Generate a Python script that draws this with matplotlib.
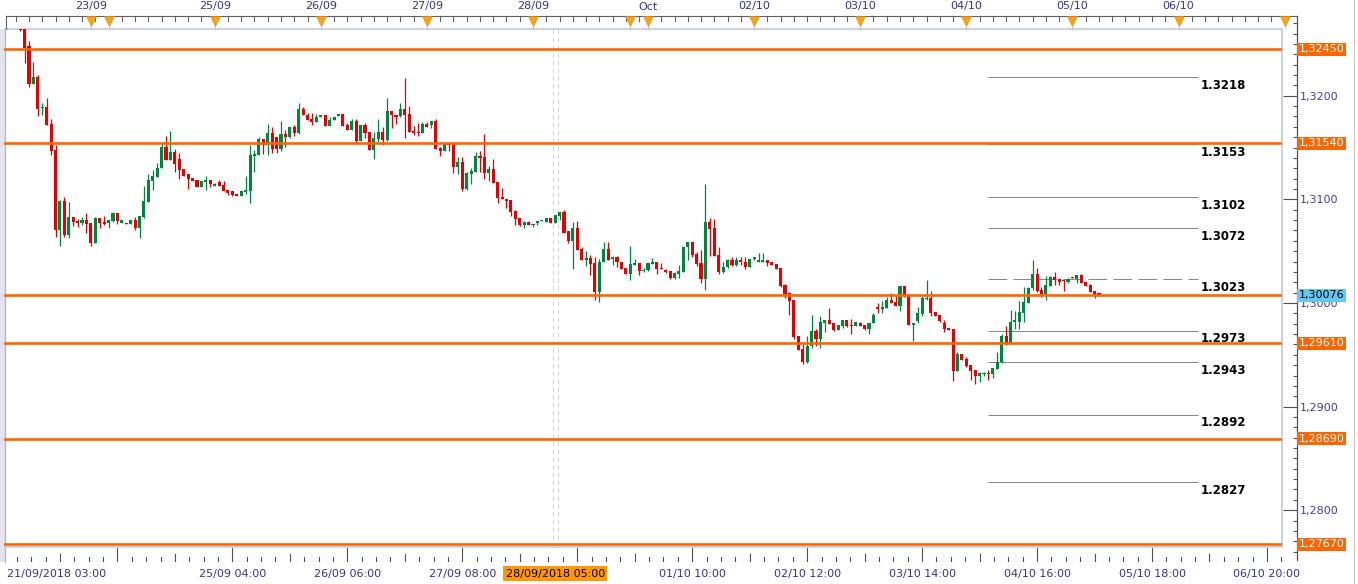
import numpy as np
import matplotlib
matplotlib.use("Agg")
import matplotlib.pyplot as plt
import matplotlib.transforms as mtransforms
from matplotlib.patches import Rectangle
from matplotlib.ticker import MultipleLocator, FuncFormatter

W, H, DPI = 1358, 584, 100

# GBP/USD hourly candles.
# x axis = trading-hour index counted from 21/09 00:00 (weekend removed)
first_hour = 6

opens = [
    1.3272, 1.3264, 1.3248, 1.3211, 1.3218, 1.3188, 1.3189, 1.3173, 1.3148, 1.3070,
    1.3098, 1.3066, 1.3083, 1.3079, 1.3077, 1.3080, 1.3077, 1.3058, 1.3082, 1.3078,
    1.3077, 1.3079, 1.3087, 1.3077, 1.3077, 1.3076, 1.3080, 1.3072, 1.3083, 1.3097,
    1.3118, 1.3122, 1.3130, 1.3151, 1.3138, 1.3146, 1.3139, 1.3129, 1.3124, 1.3121,
    1.3119, 1.3112, 1.3117, 1.3119, 1.3113, 1.3117, 1.3114, 1.3109, 1.3108, 1.3105,
    1.3103, 1.3107, 1.3108, 1.3142, 1.3143, 1.3158, 1.3152, 1.3164, 1.3160, 1.3149,
    1.3163, 1.3160, 1.3170, 1.3164, 1.3187, 1.3181, 1.3178, 1.3175, 1.3179, 1.3181,
    1.3171, 1.3177, 1.3180, 1.3182, 1.3172, 1.3167, 1.3176, 1.3156, 1.3172, 1.3165,
    1.3148, 1.3158, 1.3165, 1.3157, 1.3185, 1.3181, 1.3180, 1.3187, 1.3182, 1.3166,
    1.3165, 1.3164, 1.3173, 1.3172, 1.3176, 1.3150, 1.3147, 1.3154, 1.3153, 1.3131,
    1.3136, 1.3110, 1.3124, 1.3126, 1.3142, 1.3141, 1.3125, 1.3129, 1.3117, 1.3102,
    1.3100, 1.3099, 1.3089, 1.3082, 1.3075, 1.3078, 1.3075, 1.3077, 1.3079, 1.3078,
    1.3082, 1.3077, 1.3084, 1.3088, 1.3069, 1.3060, 1.3072, 1.3052, 1.3041, 1.3043,
    1.3039, 1.3011, 1.3040, 1.3052, 1.3042, 1.3044, 1.3040, 1.3034, 1.3028, 1.3037,
    1.3039, 1.3031, 1.3032, 1.3038, 1.3040, 1.3034, 1.3032, 1.3031, 1.3024, 1.3028,
    1.3030, 1.3054, 1.3059, 1.3047, 1.3039, 1.3023, 1.3078, 1.3072, 1.3046, 1.3030,
    1.3035, 1.3041, 1.3037, 1.3041, 1.3040, 1.3035, 1.3042, 1.3040, 1.3040, 1.3041,
    1.3040, 1.3038, 1.3034, 1.3017, 1.3010, 1.3003, 1.2968, 1.2956, 1.2943, 1.2958,
    1.2973, 1.2965, 1.2981, 1.2984, 1.2981, 1.2974, 1.2978, 1.2984, 1.2979, 1.2978,
    1.2981, 1.2979, 1.2975, 1.2981, 1.2996, 1.2994, 1.2995, 1.3003, 1.3001, 1.2997,
    1.3016, 1.3007, 1.2979, 1.2983, 1.2989, 1.3004, 1.3005, 1.2991, 1.2988, 1.2981,
    1.2976, 1.2975, 1.2934, 1.2951, 1.2946, 1.2940, 1.2935, 1.2930, 1.2931, 1.2932,
    1.2931, 1.2936, 1.2943, 1.2968, 1.2960, 1.2982, 1.2982, 1.2990, 1.3000, 1.3014,
    1.3028, 1.3013, 1.3009, 1.3016, 1.3025, 1.3023, 1.3022, 1.3020, 1.3025, 1.3023,
    1.3027, 1.3020, 1.3017, 1.3012, 1.3010,
]
highs = [
    1.3276, 1.3266, 1.3253, 1.3233, 1.3220, 1.3193, 1.3198, 1.3178, 1.3152, 1.3099,
    1.3102, 1.3097, 1.3083, 1.3081, 1.3083, 1.3087, 1.3077, 1.3083, 1.3082, 1.3084,
    1.3080, 1.3088, 1.3087, 1.3080, 1.3077, 1.3080, 1.3083, 1.3084, 1.3113, 1.3124,
    1.3128, 1.3135, 1.3153, 1.3161, 1.3166, 1.3149, 1.3145, 1.3129, 1.3124, 1.3121,
    1.3119, 1.3118, 1.3123, 1.3119, 1.3116, 1.3119, 1.3118, 1.3109, 1.3108, 1.3105,
    1.3108, 1.3123, 1.3152, 1.3148, 1.3160, 1.3158, 1.3173, 1.3170, 1.3160, 1.3176,
    1.3167, 1.3170, 1.3172, 1.3193, 1.3189, 1.3183, 1.3183, 1.3182, 1.3181, 1.3181,
    1.3179, 1.3179, 1.3182, 1.3182, 1.3174, 1.3178, 1.3178, 1.3172, 1.3174, 1.3165,
    1.3165, 1.3178, 1.3170, 1.3198, 1.3185, 1.3181, 1.3193, 1.3217, 1.3190, 1.3171,
    1.3174, 1.3175, 1.3175, 1.3176, 1.3178, 1.3151, 1.3154, 1.3154, 1.3154, 1.3141,
    1.3141, 1.3126, 1.3130, 1.3146, 1.3147, 1.3163, 1.3132, 1.3139, 1.3117, 1.3111,
    1.3100, 1.3099, 1.3090, 1.3082, 1.3079, 1.3079, 1.3076, 1.3079, 1.3080, 1.3082,
    1.3082, 1.3085, 1.3088, 1.3090, 1.3069, 1.3078, 1.3079, 1.3054, 1.3050, 1.3046,
    1.3044, 1.3042, 1.3059, 1.3059, 1.3045, 1.3045, 1.3040, 1.3034, 1.3055, 1.3042,
    1.3039, 1.3034, 1.3039, 1.3043, 1.3040, 1.3039, 1.3033, 1.3031, 1.3030, 1.3037,
    1.3054, 1.3059, 1.3059, 1.3049, 1.3051, 1.3115, 1.3082, 1.3081, 1.3054, 1.3040,
    1.3042, 1.3044, 1.3044, 1.3044, 1.3044, 1.3042, 1.3044, 1.3048, 1.3048, 1.3041,
    1.3040, 1.3038, 1.3034, 1.3018, 1.3011, 1.3003, 1.2968, 1.2960, 1.2968, 1.2988,
    1.2975, 1.2987, 1.2984, 1.2995, 1.2981, 1.2979, 1.2984, 1.2984, 1.2985, 1.2982,
    1.2982, 1.2979, 1.2981, 1.2990, 1.3000, 1.3002, 1.3006, 1.3010, 1.3008, 1.3016,
    1.3016, 1.3007, 1.2981, 1.2996, 1.3007, 1.3022, 1.3012, 1.2991, 1.2988, 1.2984,
    1.2976, 1.2975, 1.2953, 1.2951, 1.2948, 1.2940, 1.2935, 1.2933, 1.2933, 1.2935,
    1.2937, 1.2953, 1.2970, 1.2978, 1.2993, 1.2992, 1.3002, 1.3015, 1.3015, 1.3041,
    1.3034, 1.3015, 1.3026, 1.3026, 1.3030, 1.3023, 1.3022, 1.3024, 1.3025, 1.3027,
    1.3028, 1.3020, 1.3018, 1.3012, 1.3011,
]
lows = [
    1.3262, 1.3232, 1.3208, 1.3211, 1.3180, 1.3181, 1.3172, 1.3143, 1.3064, 1.3055,
    1.3064, 1.3063, 1.3074, 1.3073, 1.3075, 1.3068, 1.3055, 1.3058, 1.3072, 1.3075,
    1.3072, 1.3078, 1.3076, 1.3077, 1.3076, 1.3076, 1.3070, 1.3063, 1.3082, 1.3097,
    1.3109, 1.3122, 1.3130, 1.3138, 1.3138, 1.3126, 1.3120, 1.3123, 1.3110, 1.3118,
    1.3112, 1.3112, 1.3109, 1.3112, 1.3113, 1.3113, 1.3108, 1.3104, 1.3103, 1.3103,
    1.3103, 1.3105, 1.3096, 1.3126, 1.3143, 1.3144, 1.3143, 1.3145, 1.3145, 1.3147,
    1.3151, 1.3159, 1.3161, 1.3163, 1.3181, 1.3177, 1.3172, 1.3175, 1.3179, 1.3171,
    1.3171, 1.3177, 1.3180, 1.3171, 1.3167, 1.3167, 1.3153, 1.3156, 1.3159, 1.3148,
    1.3139, 1.3155, 1.3152, 1.3156, 1.3169, 1.3173, 1.3179, 1.3159, 1.3165, 1.3162,
    1.3161, 1.3164, 1.3170, 1.3169, 1.3149, 1.3142, 1.3147, 1.3147, 1.3125, 1.3124,
    1.3108, 1.3109, 1.3115, 1.3126, 1.3126, 1.3120, 1.3118, 1.3116, 1.3096, 1.3100,
    1.3092, 1.3084, 1.3075, 1.3074, 1.3072, 1.3075, 1.3073, 1.3075, 1.3079, 1.3078,
    1.3077, 1.3077, 1.3080, 1.3068, 1.3058, 1.3033, 1.3051, 1.3041, 1.3036, 1.3027,
    1.3003, 1.3001, 1.3040, 1.3041, 1.3037, 1.3035, 1.3033, 1.3028, 1.3022, 1.3037,
    1.3027, 1.3030, 1.3031, 1.3038, 1.3028, 1.3033, 1.3029, 1.3023, 1.3023, 1.3024,
    1.3030, 1.3041, 1.3044, 1.3036, 1.3019, 1.3013, 1.3045, 1.3045, 1.3028, 1.3029,
    1.3034, 1.3036, 1.3036, 1.3037, 1.3033, 1.3035, 1.3041, 1.3040, 1.3040, 1.3036,
    1.3037, 1.3033, 1.3015, 1.3005, 1.2988, 1.2965, 1.2955, 1.2941, 1.2942, 1.2957,
    1.2958, 1.2957, 1.2972, 1.2980, 1.2973, 1.2974, 1.2976, 1.2977, 1.2970, 1.2978,
    1.2978, 1.2974, 1.2970, 1.2981, 1.2990, 1.2990, 1.2995, 1.3000, 1.2997, 1.2992,
    1.3006, 1.2979, 1.2963, 1.2981, 1.2987, 1.3003, 1.2987, 1.2987, 1.2982, 1.2972,
    1.2974, 1.2925, 1.2934, 1.2945, 1.2938, 1.2926, 1.2922, 1.2924, 1.2930, 1.2926,
    1.2928, 1.2936, 1.2942, 1.2959, 1.2960, 1.2975, 1.2975, 1.2982, 1.3000, 1.3013,
    1.3011, 1.3006, 1.3003, 1.3016, 1.3017, 1.3017, 1.3012, 1.3019, 1.3024, 1.3019,
    1.3019, 1.3016, 1.3011, 1.3005, 1.3007,
]
closes = [
    1.3263, 1.3246, 1.3211, 1.3218, 1.3187, 1.3189, 1.3172, 1.3147, 1.3070, 1.3098,
    1.3066, 1.3083, 1.3078, 1.3077, 1.3080, 1.3076, 1.3058, 1.3082, 1.3077, 1.3076,
    1.3080, 1.3087, 1.3079, 1.3080, 1.3076, 1.3080, 1.3072, 1.3084, 1.3098, 1.3119,
    1.3123, 1.3130, 1.3151, 1.3138, 1.3146, 1.3134, 1.3128, 1.3123, 1.3120, 1.3118,
    1.3112, 1.3118, 1.3119, 1.3115, 1.3115, 1.3113, 1.3108, 1.3106, 1.3104, 1.3103,
    1.3108, 1.3109, 1.3143, 1.3144, 1.3158, 1.3152, 1.3164, 1.3149, 1.3149, 1.3163,
    1.3160, 1.3170, 1.3164, 1.3187, 1.3181, 1.3177, 1.3175, 1.3179, 1.3181, 1.3171,
    1.3177, 1.3179, 1.3182, 1.3171, 1.3167, 1.3176, 1.3156, 1.3172, 1.3164, 1.3148,
    1.3159, 1.3165, 1.3157, 1.3185, 1.3181, 1.3179, 1.3187, 1.3181, 1.3165, 1.3164,
    1.3164, 1.3173, 1.3170, 1.3176, 1.3149, 1.3147, 1.3154, 1.3152, 1.3131, 1.3136,
    1.3110, 1.3125, 1.3127, 1.3142, 1.3140, 1.3125, 1.3129, 1.3116, 1.3101, 1.3100,
    1.3098, 1.3088, 1.3081, 1.3075, 1.3078, 1.3075, 1.3076, 1.3079, 1.3080, 1.3082,
    1.3077, 1.3085, 1.3088, 1.3068, 1.3060, 1.3072, 1.3051, 1.3041, 1.3043, 1.3038,
    1.3011, 1.3040, 1.3052, 1.3041, 1.3044, 1.3040, 1.3033, 1.3028, 1.3038, 1.3039,
    1.3031, 1.3032, 1.3039, 1.3040, 1.3033, 1.3033, 1.3030, 1.3024, 1.3029, 1.3031,
    1.3054, 1.3059, 1.3046, 1.3038, 1.3023, 1.3078, 1.3071, 1.3045, 1.3030, 1.3035,
    1.3041, 1.3037, 1.3041, 1.3040, 1.3035, 1.3042, 1.3044, 1.3041, 1.3041, 1.3039,
    1.3037, 1.3033, 1.3016, 1.3009, 1.3002, 1.2967, 1.2955, 1.2943, 1.2958, 1.2973,
    1.2965, 1.2982, 1.2984, 1.2980, 1.2974, 1.2979, 1.2984, 1.2978, 1.2978, 1.2982,
    1.2978, 1.2975, 1.2981, 1.2988, 1.2994, 1.2996, 1.3003, 1.3000, 1.2997, 1.3016,
    1.3007, 1.2979, 1.2981, 1.2990, 1.3005, 1.3005, 1.2990, 1.2987, 1.2983, 1.2975,
    1.2974, 1.2934, 1.2951, 1.2945, 1.2939, 1.2934, 1.2930, 1.2932, 1.2932, 1.2931,
    1.2937, 1.2943, 1.2968, 1.2960, 1.2982, 1.2983, 1.2991, 1.3001, 1.3014, 1.3028,
    1.3012, 1.3009, 1.3017, 1.3025, 1.3022, 1.3020, 1.3021, 1.3023, 1.3024, 1.3027,
    1.3019, 1.3016, 1.3011, 1.3009, 1.30076,
]

support_levels = [1.32450, 1.31540, 1.30080, 1.29610, 1.28690, 1.27670]
boxed_supports = [1.32450, 1.31540, 1.29610, 1.28690, 1.27670]
target_levels = [1.3218, 1.3153, 1.3102, 1.3072, 1.3023, 1.2973, 1.2943, 1.2892, 1.2827]
dashed_target = 1.3023
last_price = 1.30076

day_hours = [22, 26, 50, 74, 98, 122, 144, 148, 172, 196, 220, 244, 268, 292]
day_labels = ["23/09", "", "25/09", "26/09", "27/09", "28/09", "", "Oct",
              "02/10", "03/10", "04/10", "05/10", "06/10", ""]
time_hours = [54, 80, 106, 158, 184, 210, 236, 262, 288]
time_labels = ["25/09 04:00", "26/09 06:00", "27/09 08:00", "01/10 10:00", "02/10 12:00",
               "03/10 14:00", "04/10 16:00", "05/10 18:00", "06/10 20:00"]
start_label = "21/09/2018 03:00"
cursor_hour = 127
cursor_label = "28/09/2018 05:00"

RED, GREEN, ORANGE = "#e30000", "#00843e", "#ff6600"
BLUE_TXT = "#34348a"

o, h, l, c = (np.array(v) for v in (opens, highs, lows, closes))
x = first_hour + np.arange(len(c))
up = c >= o
cols = np.where(up, GREEN, RED)

fig = plt.figure(figsize=(W / DPI, H / DPI), dpi=DPI)
fig.patch.set_facecolor("white")

# pixel-space layer for frame, strips and borders
bg = fig.add_axes([0, 0, 1, 1])
bg.set_xlim(0, W)
bg.set_ylim(H, 0)
bg.axis("off")

ax = fig.add_axes([4 / W, 1 - 547 / H, 1278 / W, 518 / H])
ax.patch.set_alpha(0)
ax.set_xlim(2.35, 291.4)
ax.set_ylim(1.27645, 1.32644)
for s in ax.spines.values():
    s.set_visible(False)
ax.set_xticks([])
ax.set_yticks([])

# candles
ax.vlines(x, l, h, colors=cols, linewidth=0.9, zorder=3)
ax.bar(x, np.maximum(np.abs(c - o), 0.00011), bottom=np.minimum(o, c), width=0.7,
       color=cols, linewidth=0, zorder=4)

# cursor (dashed double line)
for dx in (-0.55, 0.6):
    ax.axvline(cursor_hour + dx, color="#d6d6d6", lw=0.8, ls=(0, (4, 3)), zorder=1)

# support / resistance lines
for lv in support_levels:
    ax.axhline(lv, color=ORANGE, lw=1.9, zorder=6)

# target levels with labels
txt_off = mtransforms.offset_copy(ax.transData, fig=fig, x=0, y=-1.5, units="dots")
for lv in target_levels:
    ls = (0, (18, 6)) if lv == dashed_target else "-"
    ax.hlines(lv, 225, 272.5, color="#8a8a8a", lw=0.75, ls=ls, zorder=2)
    ax.text(272.9, lv, f"{lv:.4f}", transform=txt_off, ha="left", va="top",
            fontsize=8.5, fontweight="bold", color="black", zorder=7)

# price axis (extends into the strips)
ymin, ymax = ax.get_ylim()
per_px = (ymax - ymin) / 518
axp = fig.add_axes([1282 / W, 1 - 560 / H, 15 / W, 544 / H])
axp.patch.set_alpha(0)
axp.set_ylim(ymin - 13 * per_px, ymax + 13 * per_px)
for side in ("left", "top", "bottom"):
    axp.spines[side].set_visible(False)
axp.spines["right"].set_color("#505050")
axp.spines["right"].set_linewidth(0.9)
axp.set_xticks([])
axp.yaxis.tick_right()
axp.yaxis.set_major_locator(MultipleLocator(0.01))
axp.yaxis.set_minor_locator(MultipleLocator(0.001))
axp.yaxis.set_major_formatter(FuncFormatter(lambda v, p: f"{v:.4f}".replace(".", ",")))
axp.tick_params(axis="y", which="major", direction="in", length=10, width=0.8,
                color="#505050", labelcolor="#4040a0", labelsize=8, pad=2.2)
axp.tick_params(axis="y", which="minor", direction="in", length=3, width=0.8, color="#505050")

pblend = mtransforms.blended_transform_factory(axp.transAxes, axp.transData)
for lv in boxed_supports:
    axp.text(1.1, lv, f"{lv:.5f}".replace(".", ","), transform=pblend, ha="left", va="center",
             fontsize=8, color="white", clip_on=False, zorder=10,
             bbox=dict(boxstyle="square,pad=0.13", fc=ORANGE, ec="none"))
axp.text(1.1, last_price, f"{last_price:.5f}".replace(".", ","), transform=pblend,
         ha="left", va="center", fontsize=8, color="black", clip_on=False, zorder=11,
         bbox=dict(boxstyle="square,pad=0.13", fc="#64c8f4", ec="none"))

# frame and borders (pixel space)
bg.add_patch(Rectangle((0, 29), 4.5, 533, fc="#e4e4f0", ec="none"))
bg.plot([4.5, 4.5], [29, 562], color="#b0b0d0", lw=0.9)
bg.plot([4.5, 1282, 1282, 4.5], [29, 29, 547, 547], color="#c5cfdc", lw=1.3)
bg.plot([1353.5, 1353.5], [0, H], color="#c8c8c8", lw=0.8)

blend = mtransforms.blended_transform_factory(ax.transData, bg.transData)

# top time strip
bg.plot([6, 1297], [16, 16], color="#606060", lw=0.8)
bg.plot([6, 6], [16, 29], color="#606060", lw=0.8)
day_starts = [26, 50, 74, 98, 122, 148, 172, 196, 220, 244, 268, 292]
top_ticks = list(np.arange(23, 2.35, -3))
for a, b in zip(day_starts[:-1], day_starts[1:]):
    top_ticks += list(np.arange(a, b, 3))
for t in top_ticks:
    bg.plot([t, t], [16, 21], color="#606060", lw=0.8, transform=blend, clip_on=False)
for t, lab in zip(day_hours, day_labels):
    bg.plot([t, t], [16, 30], color="#b8c0cc", lw=0.8, ls=(0, (2, 1)), transform=blend)
    bg.plot([t], [20.5], marker="v", ms=7, color="#f5a31a", mec="#e08a00", mew=0.4,
            transform=blend, clip_on=False)
    if lab:
        bg.text(t, 6.5, lab, transform=blend, ha="center", va="center",
                fontsize=8, color=BLUE_TXT)

# bottom time strip
major_hours = np.arange(28, 292, 26)
for t in major_hours:
    bg.plot([t, t], [548, 561], color="#505050", lw=0.8, transform=blend)
    for k in range(1, 8):
        tm = t + k * 3.25
        if tm < 291.4:
            ln = 7 if k == 4 else 4
            bg.plot([tm, tm], [561 - ln, 561], color="#505050", lw=0.8, transform=blend)
for k in range(1, 8):
    tm = 28 - k * 3.25
    if tm > 2.35:
        ln = 7 if k == 4 else 4
        bg.plot([tm, tm], [561 - ln, 561], color="#505050", lw=0.8, transform=blend)

bg.text(7, 573.5, start_label, ha="left", va="center", fontsize=8, color=BLUE_TXT)
for t, lab in zip(time_hours, time_labels):
    bg.text(t, 573.5, lab, transform=blend, ha="center", va="center",
            fontsize=8, color=BLUE_TXT)
bg.text(cursor_hour, 573.5, cursor_label, transform=blend, ha="center", va="center",
        fontsize=8, color="black", zorder=10,
        bbox=dict(boxstyle="square,pad=0.2", fc="#ff9900", ec="none"))

fig.savefig("out.png", dpi=DPI, facecolor="white")
